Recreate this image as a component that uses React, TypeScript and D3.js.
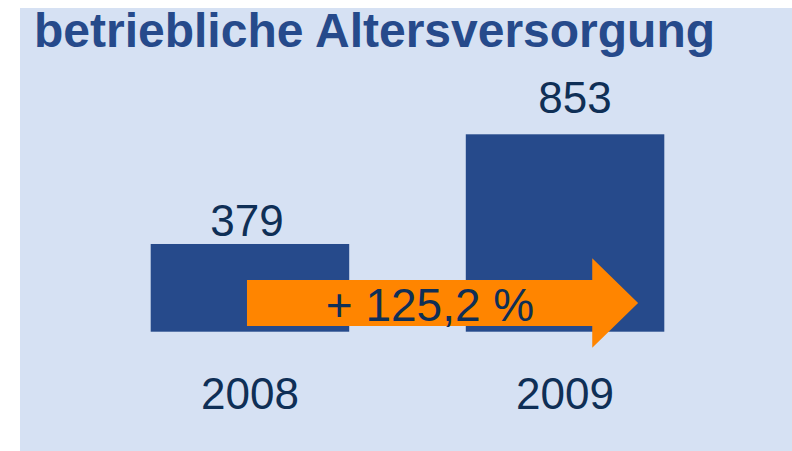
import React, { useEffect, useRef } from 'react';
import * as d3 from 'd3';

const title = 'betriebliche Altersversorgung';
const years = ['2008', '2009'];
const values = [379, 853];
const growthLabel = '+ 125,2 %';

const App = () => {
  const ref = useRef<SVGSVGElement | null>(null);

  useEffect(() => {
    drawChart();
  }, []);

  const drawChart = () => {
    const svg = d3.select(ref.current);
    svg.selectAll('*').remove();

    const width = 792;
    const height = 451;

    // panel background
    svg.append('rect')
      .attr('x', 20)
      .attr('y', 8)
      .attr('width', width - 20)
      .attr('height', height - 8)
      .attr('fill', '#d6e1f3');

    svg.append('text')
      .attr('x', 34)
      .attr('y', 47)
      .attr('font-family', 'Liberation Sans, Arial, sans-serif')
      .attr('font-weight', 'bold')
      .attr('font-size', 48)
      .attr('fill', '#264a8b')
      .text(title);

    const xScale = d3.scaleBand()
      .domain(years)
      .range([150.7, 664.3])
      .paddingInner(0.37)
      .paddingOuter(0);

    const yScale = d3.scaleLinear()
      .domain([0, d3.max(values) as number])
      .range([331.7, 134.3]);

    const data = years.map((y, i) => ({ year: y, value: values[i] }));

    svg.selectAll('.bar')
      .data(data)
      .enter().append('rect')
      .attr('class', 'bar')
      .attr('x', d => xScale(d.year) as number)
      .attr('y', d => yScale(d.value))
      .attr('width', xScale.bandwidth())
      .attr('height', d => yScale(0) - yScale(d.value))
      .attr('fill', '#264a8b');

    // value labels (the original places them slightly unevenly)
    const labelDx = [-3, 10];
    const labelDy = [-7.5, -21];
    svg.selectAll('.value')
      .data(data)
      .enter().append('text')
      .attr('class', 'value')
      .attr('x', (d, i) => (xScale(d.year) as number) + xScale.bandwidth() / 2 + labelDx[i])
      .attr('y', (d, i) => yScale(d.value) + labelDy[i])
      .attr('text-anchor', 'middle')
      .attr('font-family', 'Liberation Sans, Arial, sans-serif')
      .attr('font-size', 44)
      .attr('fill', '#0f2f56')
      .text(d => d.value);

    // year labels
    svg.selectAll('.year')
      .data(data)
      .enter().append('text')
      .attr('class', 'year')
      .attr('x', d => (xScale(d.year) as number) + xScale.bandwidth() / 2)
      .attr('y', 409)
      .attr('text-anchor', 'middle')
      .attr('font-family', 'Liberation Sans, Arial, sans-serif')
      .attr('font-size', 44)
      .attr('fill', '#0f2f56')
      .text(d => d.year);

    // growth arrow
    const bw = xScale.bandwidth();
    const x0 = (xScale(years[0]) as number) + bw * 0.485;
    const xNeck = (xScale(years[1]) as number) + bw * 0.637;
    const xTip = (xScale(years[1]) as number) + bw * 0.868;
    const bodyTop = 280;
    const bodyBottom = 326;
    const headTop = 258.3;
    const headBottom = 347.7;
    const mid = (headTop + headBottom) / 2;

    const pts: [number, number][] = [
      [x0, bodyTop], [xNeck, bodyTop], [xNeck, headTop], [xTip, mid],
      [xNeck, headBottom], [xNeck, bodyBottom], [x0, bodyBottom],
    ];
    svg.append('path')
      .attr('d', d3.line()(pts) + 'Z')
      .attr('fill', '#ff8500');

    svg.append('text')
      .attr('x', 430)
      .attr('y', 320.5)
      .attr('text-anchor', 'middle')
      .attr('font-family', 'Liberation Sans, Arial, sans-serif')
      .attr('font-size', 46)
      .attr('fill', '#0f2f56')
      .text(growthLabel);
  };

  return (
    <svg
      ref={ref}
      width={792}
      height={451}
      style={{ position: 'absolute', left: 0, top: 0, background: '#fff' }}
    />
  );
};

export default App;
